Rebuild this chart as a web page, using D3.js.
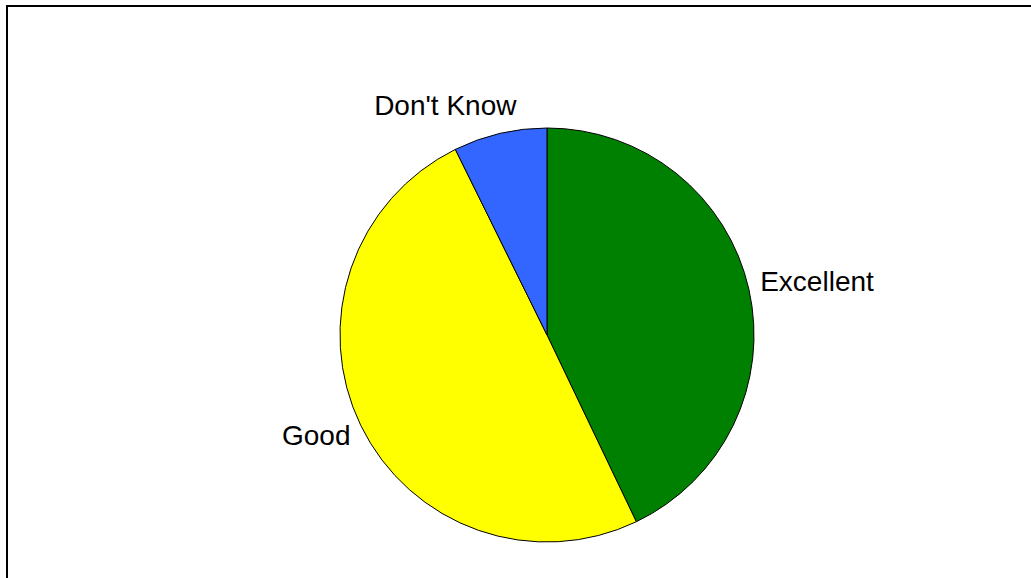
<!DOCTYPE html>
<html>
<head>
<meta charset="utf-8">
<script src="https://cdn.jsdelivr.net/npm/d3@7"></script>
<style>
  html, body { margin: 0; padding: 0; background: #fff; overflow: hidden; }
  svg { display: block; }
</style>
</head>
<body>
<div id="chart"></div>
<script>
// Chart data
const categories = ["Excellent", "Good", "Don't Know"];
const shares = [42.9, 49.8, 7.3];
const sliceColors = ["#008000", "#ffff00", "#3366ff"];

const W = 1031, H = 578;
const cx = 547, cy = 335, radius = 207;
const labelRadius = radius + 11.5;
const fontSize = 28;

const svg = d3.select("#chart")
    .append("svg")
    .attr("width", W)
    .attr("height", H);

// Frame (only top and left edges fall inside the window)
svg.append("rect")
    .attr("x", 7)
    .attr("y", 6)
    .attr("width", W + 50)
    .attr("height", H + 50)
    .style("fill", "#fff")
    .style("stroke", "#000")
    .style("stroke-width", 2);

const slices = categories.map((c, i) => ({ name: c, value: shares[i], color: sliceColors[i] }));

const pie = d3.pie().sort(null).value(d => d.value);
const arc = d3.arc().innerRadius(0).outerRadius(radius);

const g = svg.append("g").attr("transform", `translate(${cx},${cy})`);
const arcs = pie(slices);

g.selectAll("path.slice")
    .data(arcs)
    .join("path")
    .attr("class", "slice")
    .attr("d", arc)
    .style("fill", d => d.data.color)
    .style("stroke", "#000")
    .style("stroke-width", 1);

// Labels outside the pie, box pushed away from the circle
const labels = g.selectAll("text.lbl")
    .data(arcs)
    .join("text")
    .attr("class", "lbl")
    .style("font-family", "'Liberation Sans', Arial, sans-serif")
    .style("font-size", fontSize + "px")
    .style("fill", "#000")
    .attr("text-anchor", "middle")
    .text(d => d.data.name);

labels.each(function(d) {
    const a = (d.startAngle + d.endAngle) / 2;
    const s = Math.sin(a), c = Math.cos(a);
    const bb = this.getBBox();
    const hx = Math.max(-1, Math.min(1, s * 3.2));
    const x = labelRadius * s + hx * bb.width / 2;
    const yc = -labelRadius * c - c * bb.height / 2;
    d3.select(this)
        .attr("x", x)
        .attr("y", yc + fontSize * 0.28);
});
</script>
</body>
</html>
